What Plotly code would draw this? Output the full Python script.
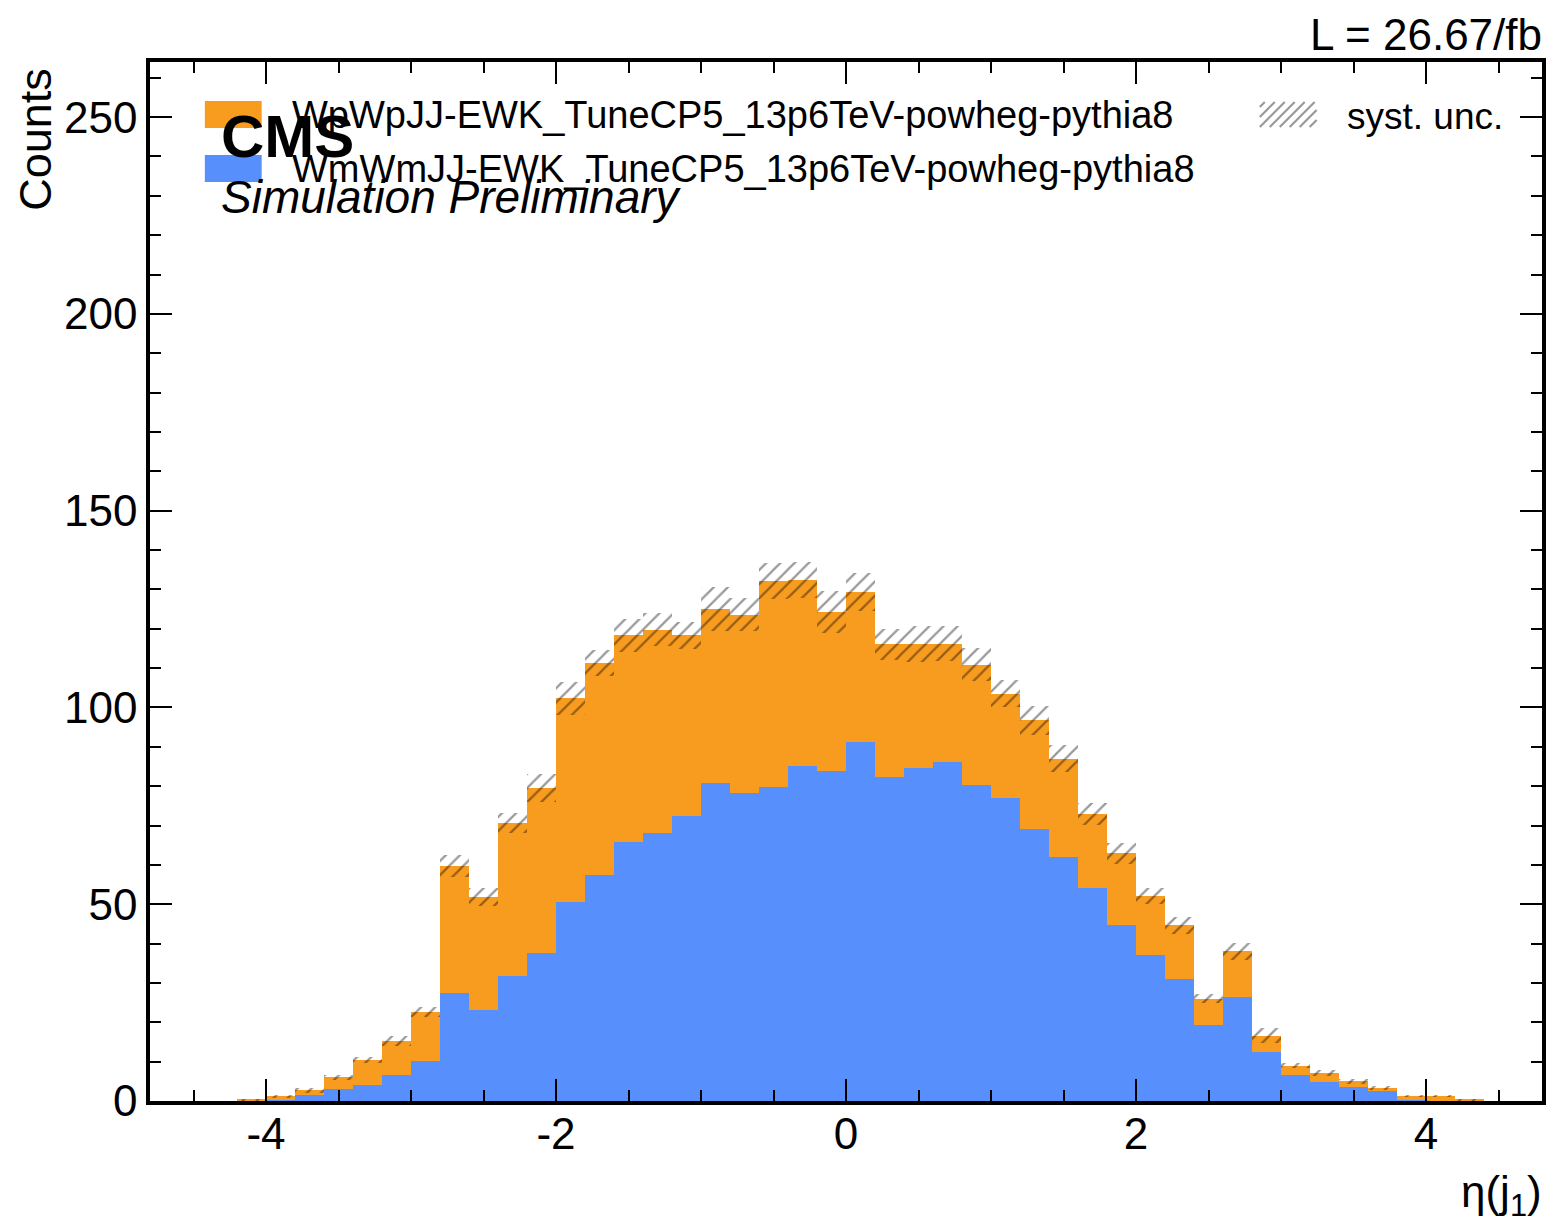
import numpy as np
import plotly.graph_objects as go

# bins of eta(j1)
bin_edges = np.round(np.arange(-4.8, 4.81, 0.2), 1)

# WpWpJJ-EWK counts per bin (stacked on top)
wpwp = [0, 0, 0, 0.3, 0.9, 1.1, 2.9, 6.4, 8.5, 12.5,
        32.2, 28.8, 39.0, 42.0, 51.8, 53.8, 52.6, 51.7, 45.8, 44.2,
        45.3, 52.2, 47.1, 40.4, 38.1, 33.7, 31.5, 30.1, 30.5, 26.6,
        27.7, 25.1, 19.0, 18.1, 15.0, 13.5, 6.8, 11.6, 4.2, 2.4,
        2.3, 1.5, 0.9, 1.0, 1.2, 0.3, 0, 0]
# WmWmJJ-EWK counts per bin (bottom)
wmwm = [0, 0, 0, 0, 0.3, 1.6, 3.1, 4.0, 6.7, 10.1,
        27.5, 23.0, 31.7, 37.6, 50.5, 57.4, 65.7, 68.1, 72.5, 80.7,
        78.3, 79.9, 85.2, 83.8, 91.2, 82.3, 84.7, 86.1, 80.4, 76.9,
        69.0, 61.9, 54.0, 44.8, 37.0, 31.1, 19.2, 26.4, 12.4, 6.6,
        4.8, 3.5, 2.5, 0.2, 0, 0, 0, 0]
# systematic uncertainty on the total (symmetric)
syst = [0, 0, 0, 0.3, 0.4, 0.7, 0.7, 0.8, 1.2, 1.3,
        2.9, 2.2, 2.5, 3.6, 4.1, 3.3, 4.2, 4.1, 3.5, 5.6,
        4.3, 4.6, 4.6, 5.4, 4.9, 3.9, 4.6, 4.5, 4.2, 3.4,
        3.6, 3.5, 2.8, 2.6, 2.0, 2.1, 1.2, 2.2, 1.9, 0.7,
        0.7, 0.6, 0.5, 0.2, 0.2, 0.2, 0, 0]

labels = ["WpWpJJ-EWK_TuneCP5_13p6TeV-powheg-pythia8",
          "WmWmJJ-EWK_TuneCP5_13p6TeV-powheg-pythia8"]
colors = ["#f89c20", "#5790fc"]
lumi_text = "L = 26.67/fb"

centers = (bin_edges[:-1] + bin_edges[1:]) / 2
width = 0.2
wp = np.array(wpwp)
wm = np.array(wmwm)
unc = np.array(syst)
total = wp + wm

FONT = "Liberation Sans"
# page has an 8px body margin, so the figure is a bit smaller than the window
W, H = 1545, 1214
L, R, T, B = 142, 7, 54, 121
# plot area in window pixels
PX0, PX1, PY0, PY1 = 150, 1546, 62, 1101


def px(x):
    return (x - PX0) / (PX1 - PX0)


def py(y):
    return (PY1 - y) / (PY1 - PY0)


fig = go.Figure()
fig.add_trace(go.Bar(x=centers, y=wm, base=0, width=width, marker=dict(color=colors[1], line_width=0),
                     showlegend=False))
fig.add_trace(go.Bar(x=centers, y=wp, base=wm, width=width, marker=dict(color=colors[0], line_width=0),
                     showlegend=False))
fig.add_trace(go.Bar(x=centers, y=2 * unc, base=total - unc, width=width,
                     marker=dict(color="rgba(0,0,0,0)", line_width=0,
                                 pattern=dict(shape="/", fillmode="overlay", fgcolor="black",
                                              fgopacity=0.4, size=10, solidity=0.22)),
                     showlegend=False))

axis_common = dict(showline=True, linewidth=3.5, linecolor="black", mirror="allticks",
                   ticks="inside", ticklen=22, tickwidth=2, tickcolor="black",
                   showgrid=False, zeroline=False,
                   tickfont=dict(family=FONT, size=44, color="black"))

xt = [-4, -2, 0, 2, 4]
fig.update_xaxes(range=[-4.8, 4.8], tickvals=xt, ticktext=[str(v) for v in xt],
                 ticklabelstandoff=-9,
                 minor=dict(dtick=0.5, tick0=0, ticks="inside", ticklen=11, tickwidth=2, tickcolor="black"),
                 **axis_common)
fig.update_yaxes(range=[0, 264], dtick=50,
                 minor=dict(dtick=10, ticks="inside", ticklen=11, tickwidth=2, tickcolor="black"),
                 **axis_common)

shapes = []
# legend swatches
for i, c in enumerate(colors):
    y0 = 101 + 54 * i
    shapes.append(dict(type="rect", xref="paper", yref="paper", x0=px(205), x1=px(262),
                       y0=py(y0 + 27), y1=py(y0), fillcolor=c, line_width=0))
# hatched swatch for syst. unc.
hx0, hx1, hy0, hy1 = 1263, 1320, 102, 127
for k in range(-3, 7):
    xa = hx0 + k * 10
    xb = xa + (hy1 - hy0)
    ya, yb = hy1, hy0
    if xa < hx0:
        ya = hy1 - (hx0 - xa)
        xa = hx0
    if xb > hx1:
        yb = hy0 + (xb - hx1)
        xb = hx1
    if xb <= xa:
        continue
    shapes.append(dict(type="line", xref="paper", yref="paper", x0=px(xa), y0=py(ya),
                       x1=px(xb), y1=py(yb), line=dict(color="rgba(0,0,0,0.4)", width=2.2)))

annotations = [
    dict(text="<b>CMS</b>", x=px(219), y=py(137), xanchor="left", yanchor="middle",
         font=dict(family=FONT, size=60, color="black")),
    dict(text="<i>Simulation Preliminary</i>", x=px(219), y=py(197), xanchor="left", yanchor="middle",
         font=dict(family=FONT, size=46, color="black")),
    dict(text=lumi_text, x=px(1548), y=py(34), xanchor="right", yanchor="middle",
         font=dict(family=FONT, size=44, color="black")),
    dict(text="Counts", x=px(35), y=py(66), xanchor="center", yanchor="top", textangle=-90,
         font=dict(family=FONT, size=45, color="black")),
    dict(text="η(j<sub>1</sub>)", x=px(1548), y=py(1195), xanchor="right", yanchor="middle",
         font=dict(family=FONT, size=44, color="black")),
    dict(text=labels[0], x=px(290), y=py(115), xanchor="left", yanchor="middle",
         font=dict(family=FONT, size=38, color="black")),
    dict(text=labels[1], x=px(290), y=py(169), xanchor="left", yanchor="middle",
         font=dict(family=FONT, size=38, color="black")),
    dict(text="syst. unc.", x=px(1348), y=py(116), xanchor="left", yanchor="middle",
         font=dict(family=FONT, size=37, color="black")),
]
for a in annotations:
    a.update(xref="paper", yref="paper", showarrow=False)

fig.update_layout(width=W, height=H, margin=dict(l=L, r=R, t=T, b=B),
                  barmode="overlay", bargap=0,
                  plot_bgcolor="white", paper_bgcolor="white",
                  shapes=shapes, annotations=annotations,
                  font=dict(family=FONT, color="black"))

fig.write_html("out.html")
